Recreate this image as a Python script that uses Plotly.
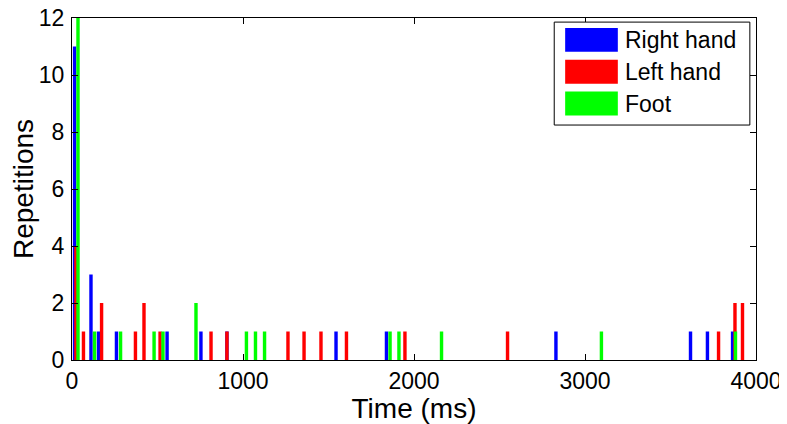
import plotly.graph_objects as go

# Repetitions per response time (ms)
right_t = [15, 111, 155, 260, 556, 754, 906, 1544, 1839, 2830, 3617, 3716, 3863]
right_n = [11, 3, 1, 1, 1, 1, 1, 1, 1, 1, 1, 1, 1]

left_t = [23, 67, 173, 371, 421, 515, 813, 906, 1263, 1357, 1456, 1605, 1947,
          2547, 3781, 3877, 3921]
left_n = [4, 1, 2, 1, 2, 1, 1, 1, 1, 1, 1, 1, 1, 1, 1, 2, 2]

foot_t = [35, 132, 284, 480, 532, 725, 1020, 1073, 1126, 1860, 1912, 2161,
          3096, 3880]
foot_n = [12, 1, 1, 1, 1, 2, 1, 1, 1, 1, 1, 1, 1, 1]

series_names = ["Right hand", "Left hand", "Foot"]
series_colors = ["#0000FF", "#FF0000", "#00FF00"]

FONT = "Liberation Sans, Arial, sans-serif"

fig = go.Figure()
for name, color, t, n in zip(series_names, series_colors,
                             [right_t, left_t, foot_t], [right_n, left_n, foot_n]):
    fig.add_trace(go.Bar(x=t, y=n, name=name, width=20,
                         marker=dict(color=color, line=dict(width=0)),
                         showlegend=False))

# the page puts the figure 8px in from the top-left corner
fig.update_layout(
    width=779, height=416,
    barmode="overlay",
    plot_bgcolor="white", paper_bgcolor="white",
    font=dict(family=FONT, size=23, color="black"),
    margin=dict(l=64, r=31, t=10, b=64),
)
fig.update_xaxes(range=[0, 4000], tickvals=[0, 1000, 2000, 3000, 4000],
                 ticks="inside", ticklen=6, tickcolor="black",
                 showline=True, linecolor="black", linewidth=1, mirror="ticks",
                 showgrid=False, zeroline=False, automargin=False,
                 ticklabeloverflow="allow",
                 title=dict(text="Time (ms)", standoff=0))
fig.update_yaxes(range=[0, 12], tickvals=list(range(0, 13, 2)),
                 ticks="inside", ticklen=6, tickcolor="black",
                 showline=True, linecolor="black", linewidth=1, mirror="ticks",
                 showgrid=False, zeroline=False, ticklabelstandoff=2,
                 automargin=False, ticklabeloverflow="allow",
                 title=dict(text="Repetitions", standoff=8))

# legend box in the MATLAB style: wide colour swatches
fig.add_shape(type="rect", xref="paper", yref="paper",
              x0=0.705, x1=0.991, y0=0.687, y1=0.988,
              line=dict(color="black", width=1), fillcolor="white")
row_top = 0.971
row_step = 0.093
for i, (name, color) in enumerate(zip(series_names, series_colors)):
    top = row_top - i * row_step
    fig.add_shape(type="rect", xref="paper", yref="paper",
                  x0=0.721, x1=0.798, y0=top - 0.07, y1=top,
                  line=dict(width=0), fillcolor=color)
    fig.add_annotation(xref="paper", yref="paper", x=0.806, y=top - 0.035,
                       text=name, showarrow=False, xanchor="left",
                       yanchor="middle", font=dict(size=23))

fig.write_html("out.html")
